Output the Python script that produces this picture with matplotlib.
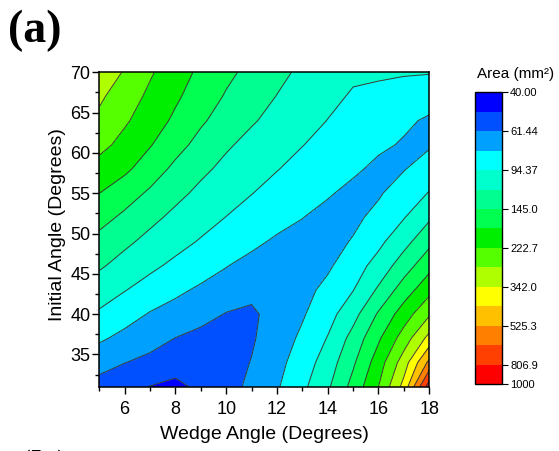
import numpy as np
import matplotlib
matplotlib.use("Agg")
import matplotlib.pyplot as plt
from matplotlib.ticker import MultipleLocator

plt.rcParams['font.family'] = ['Liberation Sans', 'DejaVu Sans']

# wedge angle (x) and initial angle (y) of the sampled grid
wedge_angle = [5, 6, 7, 8, 9, 10, 11, 12, 13, 14, 15, 16, 17, 18]
initial_angle = [31, 34, 37, 40, 43, 46, 49, 52, 55, 58, 61, 64, 67, 70]

# area (mm^2), one row per initial angle
area = [
    [56.4, 52.9, 49.3, 47.0, 52.0, 57.2, 64.1, 74.5, 90.0, 113.1, 155.7, 222.8, 367.4, 909.0],
    [67.0, 61.7, 58.2, 54.6, 54.6, 56.4, 61.9, 71.4, 84.6, 104.4, 140.4, 200.1, 307.4, 554.8],
    [78.5, 72.0, 66.5, 61.2, 57.6, 55.8, 60.1, 68.4, 79.2, 95.4, 126.1, 174.1, 245.4, 367.4],
    [91.6, 82.8, 75.0, 70.7, 66.2, 60.8, 58.9, 67.7, 74.5, 87.2, 108.5, 148.8, 199.7, 269.1],
    [105.1, 95.2, 86.8, 79.3, 73.8, 69.9, 65.5, 67.0, 71.4, 80.4, 93.8, 120.8, 160.8, 208.4],
    [120.1, 108.5, 98.5, 90.2, 83.2, 76.7, 71.4, 68.4, 68.4, 73.8, 85.7, 102.2, 130.8, 167.8],
    [136.3, 121.9, 110.4, 101.1, 92.8, 85.9, 79.7, 73.8, 70.7, 71.4, 77.2, 89.7, 108.8, 136.9],
    [155.7, 139.2, 123.2, 111.4, 102.2, 94.0, 87.8, 81.9, 76.5, 70.7, 73.0, 80.4, 93.4, 113.3],
    [179.8, 159.0, 140.4, 123.5, 111.6, 102.9, 94.8, 88.7, 83.2, 78.0, 71.4, 74.5, 83.9, 95.4],
    [204.5, 187.6, 160.8, 138.3, 122.1, 111.1, 102.6, 95.0, 89.3, 84.1, 79.2, 72.2, 75.4, 83.7],
    [237.6, 208.0, 182.1, 155.7, 135.7, 120.1, 110.2, 102.2, 94.8, 89.3, 84.3, 79.3, 74.5, 74.5],
    [263.4, 229.1, 199.3, 172.9, 149.1, 132.8, 119.3, 109.9, 101.6, 94.0, 88.7, 83.7, 79.2, 73.8],
    [285.8, 247.0, 213.4, 185.6, 162.2, 142.2, 128.6, 116.3, 107.4, 99.2, 92.4, 90.1, 86.8, 83.9],
    [317.5, 270.9, 228.1, 197.1, 172.2, 152.0, 136.6, 123.7, 112.1, 105.1, 97.5, 96.9, 96.0, 95.4],
]

cbar_labels = ['40.00', '61.44', '94.37', '145.0', '222.7', '342.0', '525.3', '806.9', '1000']
band_colors = ['#0000ff', '#0050ff', '#00a0ff', '#00ffff', '#00ffcc', '#00ff90', '#00ff50',
               '#00ee00', '#55ff00', '#b0ff00', '#ffff00', '#ffc000', '#ff8000', '#ff4000', '#ff0000']

# 16 log-spaced levels between 40 and 1000, contoured in log space
levels = np.log10(np.geomspace(40, 1000, 16))
X, Y = np.meshgrid(wedge_angle, initial_angle)
Z = np.log10(np.array(area))

fig = plt.figure(figsize=(5.59, 4.51), dpi=100)
ax = fig.add_axes([0.1776, 0.1426, 0.5903, 0.6971])

cf = ax.contourf(X, Y, Z, levels=levels, colors=band_colors)
ax.contour(X, Y, Z, levels=levels[1:-1], colors='#3a3a3a', linewidths=0.7)

ax.set_xlim(5, 18)
ax.set_ylim(31, 70)
ax.xaxis.set_minor_locator(MultipleLocator(1))
ax.yaxis.set_major_locator(MultipleLocator(5))
ax.yaxis.set_minor_locator(MultipleLocator(2.5))
ax.set_xticks(range(6, 19, 2))
ax.tick_params(which='major', direction='out', length=5, width=1, labelsize=13)
ax.tick_params(which='minor', direction='out', length=3, width=1)
ax.tick_params(axis='x', which='major', pad=5)
ax.tick_params(axis='y', which='major', pad=1.5)
for s in ax.spines.values():
    s.set_linewidth(1.1)

ax.set_xlabel('Wedge Angle (Degrees)', fontsize=14)
ax.set_ylabel('Initial Angle (Degrees)', fontsize=14)
ax.xaxis.set_label_coords(0.5, -0.125)
ax.yaxis.set_label_coords(-0.1, 0.515)

# colour scale
cax = fig.add_axes([0.8497, 0.1486, 0.0478, 0.6468])
cb = fig.colorbar(cf, cax=cax, ticks=list(levels[::2]) + [levels[-1]])
cb.ax.invert_yaxis()
cb.ax.set_yticklabels(cbar_labels)
cb.ax.tick_params(labelsize=8, length=4, width=0.8, pad=2)
cb.outline.set_linewidth(1)
fig.text(0.923, 0.826, 'Area (mm²)', fontsize=11, ha='center', va='baseline')

# panel letters
fig.text(0.014, 0.907, '(a)', fontsize=33, fontweight='bold',
         family='Liberation Serif', va='baseline')
fig.text(0.028, -0.068, '(b)', fontsize=33, fontweight='bold',
         family='Liberation Serif', va='baseline')

fig.savefig('out.png', dpi=100)
